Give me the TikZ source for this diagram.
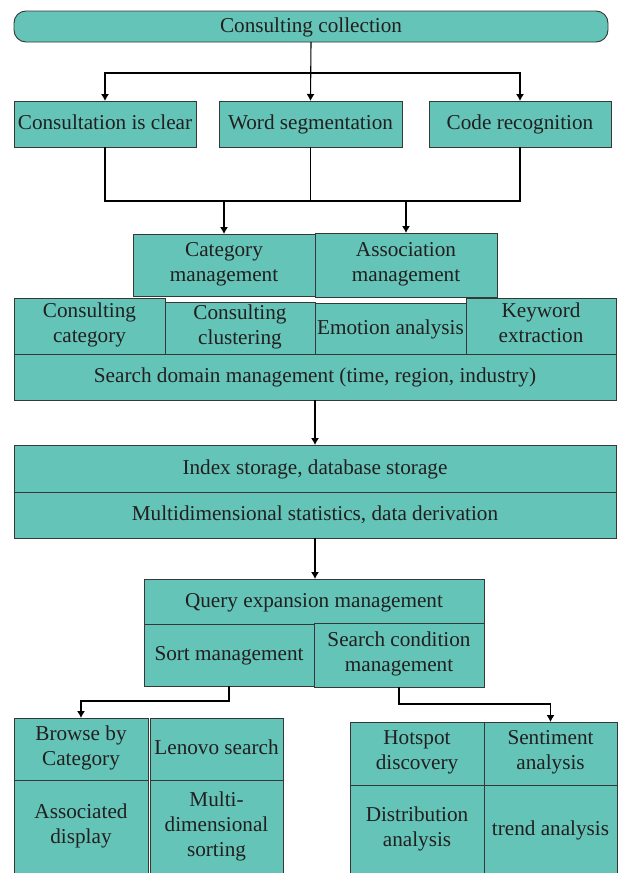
\documentclass[tikz,border=0pt]{standalone}
\usepackage{fontspec}
\setmainfont{Liberation Serif}
\usetikzlibrary{arrows.meta}
\definecolor{boxteal}{RGB}{99,196,183}
\definecolor{boxline}{RGB}{55,55,55}
\definecolor{boxtext}{RGB}{35,31,32}
\begin{document}
\begin{tikzpicture}[x=1pt, y=-1pt, >={Latex[length=7pt,width=8pt]},
    box/.style={draw=boxline, fill=boxteal, line width=0.9pt, inner sep=0pt, outer sep=0pt,
      align=center, text=boxtext, font=\fontsize{21.2}{25}\selectfont,
      execute at begin node={\rule{0pt}{18pt}}, execute at end node={\rule[-7pt]{0pt}{7pt}}},
    link/.style={line width=1.1pt, black}]
      \useasboundingbox (0,0) rectangle (618,873);

      % collection and first three steps
      \node[box, rounded corners=12pt, minimum width=594pt, minimum height=31pt] (coll) at (311,26.5) {Consulting collection};
      \node[box, minimum width=182pt, minimum height=46pt] (clear) at (105,124) {Consultation is clear};
      \node[box, minimum width=183pt, minimum height=46pt] (wseg) at (310.5,124) {Word segmentation};
      \node[box, minimum width=182pt, minimum height=46pt] (code) at (520,124) {Code recognition};

      % management layer
      \node[box, minimum width=182pt, minimum height=62pt] (catm) at (224,265) {Category\\management};
      \node[box, minimum width=182pt, minimum height=64pt] (assm) at (406,265) {Association\\management};
      \node[box, minimum width=151pt, minimum height=56pt] (ccat) at (89.5,326) {Consulting\\category};
      \node[box, minimum width=150pt, minimum height=52pt] (cclu) at (240,328) {Consulting\\clustering};
      \node[box, minimum width=151pt, minimum height=51pt] (emo) at (390.5,328.5) {Emotion analysis};
      \node[box, minimum width=150pt, minimum height=56pt] (kwd) at (541,326) {Keyword\\extraction};
      \node[box, minimum width=602pt, minimum height=46pt] (sdom) at (315,377) {Search domain management (time, region, industry)};

      % storage
      \node[box, minimum width=602pt, minimum height=47pt] (idx) at (315,468.5) {Index storage, database storage};
      \node[box, minimum width=602pt, minimum height=46pt] (mds) at (315,515) {Multidimensional statistics, data derivation};

      % query
      \node[box, minimum width=340pt, minimum height=45pt] (qexp) at (314,601.5) {Query expansion management};
      \node[box, minimum width=170pt, minimum height=62pt] (sort) at (229,655) {Sort management};
      \node[box, minimum width=170pt, minimum height=64pt] (scond) at (399,655) {Search condition\\management};

      % results
      \node[box, minimum width=134pt, minimum height=62pt] (bcat) at (81,749) {Browse by\\Category};
      \node[box, minimum width=133pt, minimum height=62pt] (lenovo) at (216.5,749) {Lenovo search};
      \node[box, minimum width=134pt, minimum height=95pt] (assd) at (81,827.5) {Associated\\display};
      \node[box, minimum width=133pt, minimum height=95pt] (mdsort) at (216.5,827.5) {Multi-\\dimensional\\sorting};
      \node[box, minimum width=134pt, minimum height=63pt] (hot) at (417,753.5) {Hotspot\\discovery};
      \node[box, minimum width=133pt, minimum height=63pt] (sent) at (550.5,753.5) {Sentiment\\analysis};
      \node[box, minimum width=134pt, minimum height=90pt] (dist) at (417,830) {Distribution\\analysis};
      \node[box, minimum width=133pt, minimum height=90pt] (trend) at (550.5,830) {trend analysis};

      \coordinate (fork) at (311,73);
      \coordinate (join) at (311,201);

      \draw[link, ->] (coll.south) -- (wseg.north);
      \draw[link, ->] (fork) -| (clear.north);
      \draw[link, ->] (fork) -| (code.north);
      \draw[link] (clear.south) |- (join) -| (code.south);
      \draw[link] (wseg.south) -- (wseg.south |- join);
      \draw[link, ->] (catm.north |- join) -- (catm.north);
      \draw[link, ->] (assm.north |- join) -- (assm.north);
      \draw[link, ->] (sdom.south) -- (idx.north);
      \draw[link, ->] (mds.south) -- (mds.south |- qexp.north);
      \draw[link, ->] (sort.south) -- ++(0,15) -| (bcat.north);
      \draw[link, ->] (scond.south) -- ++(0,17) -| (sent.north);
    \end{tikzpicture}
\end{document}
